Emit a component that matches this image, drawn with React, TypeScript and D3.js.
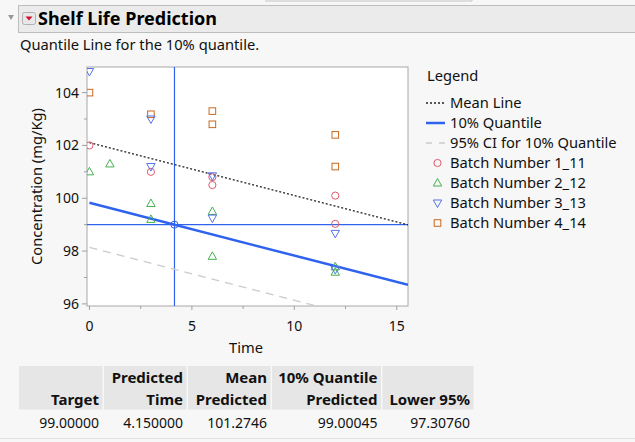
import React from 'react';
import * as d3 from 'd3';

// batch observations: time / concentration
const batch1Time = [0, 3, 6, 6, 12, 12];
const batch1Conc = [102.0, 101.0, 100.8, 100.5, 100.1, 99.03];
const batch2Time = [0, 1, 3, 3, 6, 6, 12, 12];
const batch2Conc = [101.0, 101.3, 99.8, 99.2, 99.5, 97.8, 97.4, 97.2];
const batch3Time = [0, 3, 3, 6, 6, 12, 12];
const batch3Conc = [104.8, 103.0, 101.2, 100.85, 99.25, 98.67, 97.3];
const batch4Time = [0, 3, 6, 6, 12, 12];
const batch4Conc = [104.0, 103.18, 103.3, 102.8, 102.4, 101.2];

// fitted lines (intercept at time 0, slope)
const meanLine = [102.105, -0.2];
const quantileLine = [99.83, -0.2];
const ciLine = [98.137, -0.2];

const target = 99.0;
const predictedTime = 4.15;

const xTicks = [0, 5, 10, 15];
const xMinor = [2.5, 7.5, 12.5];
const yTicks = [96, 98, 100, 102, 104];
const yMinor = [97, 99, 101, 103];

const tableHeads = [
  ['', 'Target'],
  ['Predicted', 'Time'],
  ['Mean', 'Predicted'],
  ['10% Quantile', 'Predicted'],
  ['', 'Lower 95%'],
];
const tableValues = ['99.00000', '4.150000', '101.2746', '99.00045', '97.30760'];

const FONT = '"Noto Sans", "Open Sans", sans-serif';
const LEFT = 87;
const RIGHT = 408;
const TOP = 67;
const BOTTOM = 306;

const RED = '#de5a6c';
const GREEN = '#45b04e';
const BLUE = '#5573e8';
const ORANGE = '#c8691f';
const LINE_BLUE = '#2f63ef';

const circle = (x: number, y: number, k: string | number) => (
  <circle key={k} cx={x} cy={y} r={3.6} fill="none" stroke={RED} strokeWidth={1} />
);
const triUp = (x: number, y: number, k: string | number) => (
  <path key={k} d={`M${x},${y - 4.5}L${x + 4.2},${y + 3}L${x - 4.2},${y + 3}Z`} fill="none" stroke={GREEN} strokeWidth={1} />
);
const triDown = (x: number, y: number, k: string | number) => (
  <path key={k} d={`M${x},${y + 4.5}L${x + 4.2},${y - 3}L${x - 4.2},${y - 3}Z`} fill="none" stroke={BLUE} strokeWidth={1} />
);
const square = (x: number, y: number, k: string | number) => (
  <rect key={k} x={x - 3.3} y={y - 3.3} width={6.6} height={6.6} fill="none" stroke={ORANGE} strokeWidth={1} />
);

export default function App() {
  const xScale = d3.scaleLinear().domain([-0.12, 15.55]).range([LEFT, RIGHT]);
  const yScale = d3.scaleLinear().domain([95.92, 104.97]).range([BOTTOM, TOP]);

  const fit = (p: number[]) => (t: number) => p[0] + p[1] * t;
  const line = d3
    .line<number>()
    .x(t => xScale(t))
    .y(t => yScale(t));

  const xEnd = 15.55;
  const meanPath = line.y(t => yScale(fit(meanLine)(t)))([0, xEnd]);
  const qPath = line.y(t => yScale(fit(quantileLine)(t)))([0, xEnd]);
  // CI line clipped at the bottom of the frame
  const ciEnd = (95.92 - ciLine[0]) / ciLine[1];
  const ciPath = line.y(t => yScale(fit(ciLine)(t)))([0, Math.min(ciEnd, xEnd)]);

  const colX = [19, 104, 188, 272, 382.5, 475];

  const legendItems = ['Mean Line', '10% Quantile', '95% CI for 10% Quantile', 'Batch Number 1_11', 'Batch Number 2_12', 'Batch Number 3_13', 'Batch Number 4_14'];

  return (
    <div style={{ position: 'absolute', left: 0, top: 0 }}>
      <svg width={635} height={442} style={{ display: 'block', fontFamily: FONT }}>
        <rect x={0} y={0} width={635} height={442} fill="#f7f7f7" />
        {/* 上方残余框 */}
        <line x1={265} x2={472} y1={1} y2={1} stroke="#c4c4c4" />
        <line x1={472} x2={472} y1={0} y2={1} stroke="#c4c4c4" />

        {/* header bar */}
        <rect x={18.5} y={5.5} width={620} height={27} fill="#ebebeb" stroke="#bdbdbd" />
        <path d="M8,15L14,15L11,20Z" fill="#9a9a9a" />
        <rect x={22.5} y={12.5} width={13} height={12} rx={2} fill="#e8e8e8" stroke="#b0b0b0" />
        <path d="M25.5,16.5L32.5,16.5L29,20.5Z" fill="#d0102a" />
        <text x={38} y={25} fontSize={18} fontWeight="bold" fill="#000">Shelf Life Prediction</text>
        <text x={20} y={50} fontSize={14.7} fill="#111">Quantile Line for the 10% quantile.</text>

        {/* plot frame */}
        <rect x={LEFT} y={TOP} width={RIGHT - LEFT} height={BOTTOM - TOP} fill="#fff" stroke="#a8a8a8" />

        <defs>
          <clipPath id="plotClip">
            <rect x={LEFT} y={TOP} width={RIGHT - LEFT} height={BOTTOM - TOP} />
          </clipPath>
        </defs>

        {/* x axis */}
        {xTicks.map(t => (
          <g key={'xt' + t}>
            <line x1={xScale(t)} x2={xScale(t)} y1={BOTTOM} y2={BOTTOM + 4} stroke="#a0a0a0" />
            <text x={xScale(t)} y={331} fontSize={14} textAnchor="middle" fill="#111">{t}</text>
          </g>
        ))}
        {xMinor.map(t => (
          <line key={'xm' + t} x1={xScale(t)} x2={xScale(t)} y1={BOTTOM} y2={BOTTOM + 3} stroke="#a0a0a0" />
        ))}
        <text x={246} y={353} fontSize={14.7} textAnchor="middle" fill="#111">Time</text>

        {/* y axis */}
        {yTicks.map(v => (
          <g key={'yt' + v}>
            <line x1={LEFT - 5} x2={LEFT} y1={yScale(v)} y2={yScale(v)} stroke="#a0a0a0" />
            <text x={79} y={yScale(v) + 5} fontSize={14} textAnchor="end" fill="#111">{v}</text>
          </g>
        ))}
        {yMinor.map(v => (
          <line key={'ym' + v} x1={LEFT - 3} x2={LEFT} y1={yScale(v)} y2={yScale(v)} stroke="#a0a0a0" />
        ))}
        <text transform={`translate(42,${(TOP + BOTTOM) / 2}) rotate(-90)`} fontSize={14.7} textAnchor="middle" fill="#111">
          Concentration (mg/Kg)
        </text>

        <g clipPath="url(#plotClip)">
          {/* target & predicted time reference lines */}
          <line x1={LEFT} x2={RIGHT} y1={yScale(target)} y2={yScale(target)} stroke={LINE_BLUE} strokeWidth={1.2} />
          <line x1={xScale(predictedTime)} x2={xScale(predictedTime)} y1={TOP} y2={BOTTOM} stroke={LINE_BLUE} strokeWidth={1.2} />

          <path d={ciPath || ''} fill="none" stroke="#cbcbcb" strokeWidth={1.3} strokeDasharray="8,6" />
          <path d={meanPath || ''} fill="none" stroke="#222" strokeWidth={1.3} strokeDasharray="2,2" />
          <path d={qPath || ''} fill="none" stroke={LINE_BLUE} strokeWidth={2.5} />
          <circle cx={xScale(predictedTime)} cy={yScale(target)} r={3.6} fill="none" stroke={LINE_BLUE} strokeWidth={1} />

          {batch4Time.map((t, i) => square(xScale(t), yScale(batch4Conc[i]), 'b4' + i))}
          {batch1Time.map((t, i) => circle(xScale(t), yScale(batch1Conc[i]), 'b1' + i))}
          {batch2Time.map((t, i) => triUp(xScale(t), yScale(batch2Conc[i]), 'b2' + i))}
          {batch3Time.map((t, i) => triDown(xScale(t), yScale(batch3Conc[i]), 'b3' + i))}
        </g>

        {/* legend */}
        <g>
          <text x={427} y={81} fontSize={14.7} fill="#111">Legend</text>
          {legendItems.map((name, i) => {
            const y = 108 + i * 20;
            const cy = y - 5;
            let sym: React.ReactNode = null;
            if (i === 0) sym = <line x1={426} x2={445} y1={cy} y2={cy} stroke="#222" strokeWidth={1.3} strokeDasharray="2,2" />;
            if (i === 1) sym = <line x1={426} x2={445} y1={cy} y2={cy} stroke={LINE_BLUE} strokeWidth={2.5} />;
            if (i === 2) sym = <line x1={426} x2={445} y1={cy} y2={cy} stroke="#cbcbcb" strokeWidth={1.3} strokeDasharray="6,7" />;
            if (i === 3) sym = circle(437.5, cy, 'l' + i);
            if (i === 4) sym = triUp(437.5, cy, 'l' + i);
            if (i === 5) sym = triDown(437.5, cy, 'l' + i);
            if (i === 6) sym = square(437.5, cy, 'l' + i);
            return (
              <g key={name}>
                {sym}
                <text x={450} y={y} fontSize={14.7} fill="#111">{name}</text>
              </g>
            );
          })}
        </g>

        {/* summary table */}
        <g>
          {tableHeads.map((h, i) => (
            <g key={'th' + i}>
              <rect x={colX[i]} y={366} width={colX[i + 1] - colX[i] - 1.5} height={43.5} fill="#e6e6e6" />
              <text x={colX[i + 1] - 5} y={383} fontSize={15} fontWeight="bold" textAnchor="end" fill="#111">{h[0]}</text>
              <text x={colX[i + 1] - 5} y={405} fontSize={15} fontWeight="bold" textAnchor="end" fill="#111">{h[1]}</text>
            </g>
          ))}
          {tableValues.map((v, i) => (
            <text key={'tv' + i} x={colX[i + 1] - 5} y={428} fontSize={14} textAnchor="end" fill="#111">{v}</text>
          ))}
          <line x1={0} x2={635} y1={438.5} y2={438.5} stroke="#e0e0e0" />
        </g>
      </svg>
    </div>
  );
}
